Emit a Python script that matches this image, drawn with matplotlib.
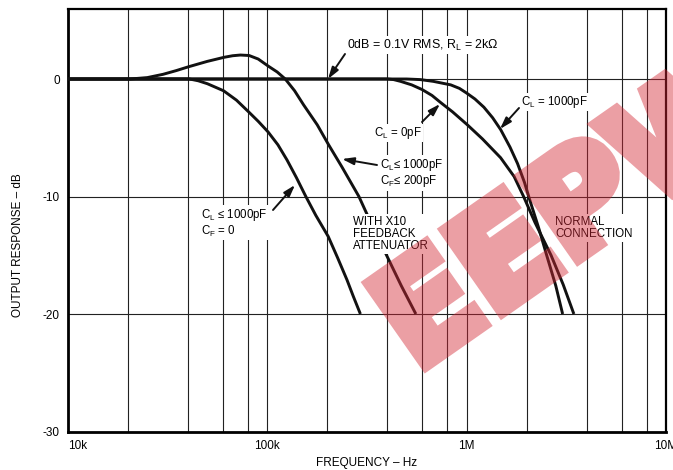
import numpy as np
import matplotlib
matplotlib.use("Agg")
import matplotlib.pyplot as plt
import matplotlib.patheffects as pe
from matplotlib.ticker import FixedLocator, NullFormatter

plt.rcParams['font.family'] = ['Liberation Sans', 'DejaVu Sans']
plt.rcParams['mathtext.fontset'] = 'custom'
plt.rcParams['mathtext.rm'] = 'Liberation Sans'

# ---- data (frequency in Hz, response in dB) ----
peak_f = [1e4, 2.05e4, 2.5e4, 3.0e4, 3.5e4, 4.04e4, 5.0e4, 6.08e4, 6.7e4, 7.33e4, 8.1e4,
          9.0e4, 1.01e5, 1.12e5, 1.23e5, 1.37e5, 1.52e5, 1.78e5, 2.03e5, 2.37e5,
          2.88e5, 3.23e5, 3.99e5, 4.7e5, 5.56e5]
peak_db = [0, 0, 0.12, 0.4, 0.72, 1.05, 1.5, 1.85, 1.98, 2.04, 2.0,
           1.7, 1.1, 0.6, 0, -1.0, -2.2, -3.9, -5.6, -7.5,
           -10.0, -11.85, -15.1, -17.6, -20]

cf0_f = [1e4, 4.07e4, 4.5e4, 5.0e4, 6.03e4, 7.0e4, 8.06e4, 9.0e4, 1.008e5, 1.13e5,
         1.256e5, 1.4e5, 1.56e5, 1.75e5, 2.02e5, 2.25e5, 2.51e5, 2.7e5, 2.93e5]
cf0_db = [0, 0, -0.15, -0.4, -1.0, -1.8, -2.8, -3.6, -4.5, -5.6,
          -6.9, -8.4, -10.0, -11.6, -13.4, -15.2, -17.1, -18.5, -20]

cl0_f = [1e4, 3.99e5, 4.3e5, 4.66e5, 5.3e5, 5.98e5, 6.7e5, 7.40e5, 8.5e5, 1.008e6,
         1.2e6, 1.48e6, 1.73e6, 1.93e6, 2.2e6, 2.65e6, 3.05e6, 3.45e6]
cl0_db = [0, 0, -0.05, -0.2, -0.5, -0.9, -1.4, -2.0, -2.8, -3.9,
          -5.1, -6.7, -8.3, -10.0, -12.2, -15.0, -17.5, -20]

cl1000_f = [1e4, 5.0e5, 5.85e5, 6.8e5, 8.32e5, 9.2e5, 1.0e6, 1.1e6, 1.22e6, 1.35e6,
            1.48e6, 1.65e6, 1.80e6, 1.95e6, 2.06e6, 2.3e6, 2.52e6, 2.8e6, 3.03e6]
cl1000_db = [0, 0, -0.05, -0.2, -0.5, -0.8, -1.2, -1.7, -2.4, -3.3,
             -4.3, -5.8, -7.2, -8.8, -10.15, -12.7, -15.0, -17.6, -20]

x_ticks = [1e4, 1e5, 1e6, 1e7]
x_tick_labels = ['10k', '100k', '1M', '10M']
x_minor = [m * d for d in (1e4, 1e5, 1e6) for m in (2, 4, 6, 8)]
y_ticks = [0, -10, -20, -30]
y_tick_labels = ['0', '-10', '-20', '-30']

W, H = 673, 470
fig = plt.figure(figsize=(W / 100, H / 100), dpi=100)
L, R, T, B = 68, 666, 8.5, 431.5
ax = fig.add_axes([L / W, 1 - B / H, (R - L) / W, (B - T) / H])
ax.set_xscale('log')
ax.set_xlim(1e4, 1e7)
ax.set_ylim(-30, 6)

def px(x, y):
    """figure pixel -> data coords"""
    f = 10 ** (4 + 3 * (x - L) / (R - L))
    d = 6 - 36 * (y - T) / (B - T)
    return f, d

# grid
ax.xaxis.set_major_locator(FixedLocator(x_ticks))
ax.xaxis.set_minor_locator(FixedLocator(x_minor))
ax.xaxis.set_minor_formatter(NullFormatter())
ax.set_xticks(x_ticks)
ax.set_xticklabels(x_tick_labels)
ax.set_yticks(y_ticks)
ax.set_yticklabels(y_tick_labels)
ax.grid(True, which='both', axis='x', color='#222222', lw=0.8)
ax.grid(True, which='major', axis='y', color='#222222', lw=0.8)
ax.tick_params(which='both', length=0, labelsize=8.5)
ax.tick_params(axis='x', pad=6)
ax.tick_params(axis='y', pad=6)
ax.get_xticklabels()[0].set_horizontalalignment('left')
for s in ax.spines.values():
    s.set_linewidth(1.6)
ax.spines['left'].set_linewidth(2.0)
ax.spines['bottom'].set_linewidth(2.0)

lw = 2.1
for f, d in [(peak_f, peak_db), (cf0_f, cf0_db), (cl0_f, cl0_db), (cl1000_f, cl1000_db)]:
    ax.plot(f, d, color='#111111', lw=lw, solid_capstyle='butt',
            solid_joinstyle='round', zorder=3)

fig.text((L + R) / 2 / W, 1 - 463 / H, 'FREQUENCY – Hz', ha='center', va='center',
         fontsize=8.5)
fig.text(18 / W, 1 - 245 / H, 'OUTPUT RESPONSE – dB', rotation=90,
         ha='center', va='center', fontsize=8.5)

bb = dict(fc='white', ec='none', pad=1.0)
fs = 8.3
CL = 'C$_\\mathregular{L}$'
CF = 'C$_\\mathregular{F}$'

def label(x, y, s, size=fs, **kw):
    ax.text(*px(x, y), s, fontsize=size, ha='left', va='center', bbox=bb,
            zorder=5, linespacing=1.05, **kw)

def arrow(tail, tip):
    ax.annotate('', xy=px(*tip), xytext=px(*tail),
                arrowprops=dict(arrowstyle='-|>,head_length=0.7,head_width=0.22',
                                lw=1.4, color='#111111', shrinkA=0, shrinkB=0),
                zorder=6)

label(347, 45, '0dB = 0.1V RMS, R$_\\mathregular{L}$ = 2kΩ', size=8.9)
arrow((345, 54), (328, 79))
label(521, 102, CL + ' = 1000pF')
arrow((519, 108), (500, 129))
label(374, 133, CL + ' = 0pF')
arrow((422, 122), (440, 104))
label(380, 173, CL + '≤ 1000pF\n' + CF + '≤ 200pF')
arrow((377, 165), (342, 159))
label(201, 223, CL + ' ≤ 1000pF\n' + CF + ' = 0')
arrow((273, 210), (295, 185))
label(353, 234, 'WITH X10\nFEEDBACK\nATTENUATOR')
label(555, 228, 'NORMAL\nCONNECTION')

# watermark: heavy red text, uniformly translucent
wm_rgb = np.array([0.83, 0.16, 0.21])

def translucent(img, dpi):
    out = np.empty_like(img)
    out[..., :3] = wm_rgb
    out[..., 3] = np.clip(img[..., 3], 0, 1) * 0.45
    return out, 0, 0

wm = fig.text(416 / W, 1 - 372 / H, 'EEPW', rotation=35, rotation_mode='anchor',
              ha='left', va='baseline', fontsize=98, fontweight='bold',
              family='DejaVu Sans', color=wm_rgb, zorder=10)
wm.set_path_effects([pe.Stroke(linewidth=9, foreground=wm_rgb, joinstyle='miter'),
                     pe.Normal()])
wm.set_agg_filter(translucent)

fig.savefig('out.png', dpi=100)
